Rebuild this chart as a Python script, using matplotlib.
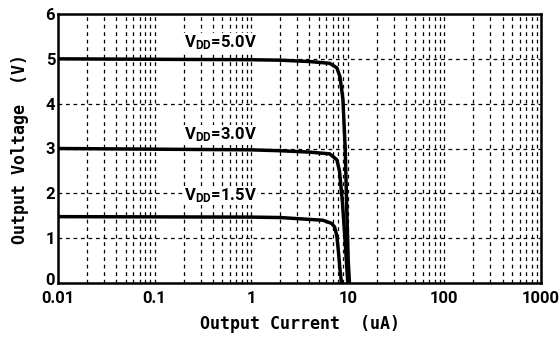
import numpy as np
import matplotlib.pyplot as plt
import matplotlib.transforms as mtransforms
from matplotlib.ticker import LogLocator, FixedLocator, NullFormatter

# output current (uA) and output voltage (V) for each VDD
cur_50 = [0.01, 1, 2, 4, 6.5, 7.7, 8.3, 8.9, 9.4, 9.8, 10.1, 10.4]
vol_50 = [5.0, 4.98, 4.97, 4.94, 4.90, 4.80, 4.6, 4.1, 3.0, 1.5, 0.5, 0.0]

cur_30 = [0.01, 1, 2, 4, 6.5, 7.7, 8.2, 8.8, 9.4, 10.0]
vol_30 = [3.0, 2.97, 2.95, 2.92, 2.88, 2.75, 2.5, 1.8, 0.9, 0.0]

cur_15 = [0.01, 1, 2, 5.5, 6.8, 7.3, 7.7, 8.0, 8.3, 8.6]
vol_15 = [1.48, 1.47, 1.46, 1.40, 1.33, 1.25, 1.05, 0.7, 0.3, 0.0]

labels = [r'V$\mathregular{_{DD}}$=5.0V', r'V$\mathregular{_{DD}}$=3.0V', r'V$\mathregular{_{DD}}$=1.5V']
label_pos = [(0.2, 5.35), (0.2, 3.3), (0.2, 1.95)]

xticks = [0.01, 0.1, 1, 10, 100, 1000]
xticklabels = ['0.01', '0.1', '1', '10', '100', '1000']
yticks = [0, 1, 2, 3, 4, 5, 6]

plt.rcParams['font.family'] = ['Roboto', 'DejaVu Sans']
plt.rcParams['font.weight'] = 'bold'
plt.rcParams['mathtext.default'] = 'regular'
lab_font = ['DejaVu Sans Mono']

fig = plt.figure(figsize=(5.59, 3.42), dpi=100)
ax = fig.add_axes([58/559, 1 - 283/342, (541-58)/559, (283-14)/342])

for c, v in [(cur_50, vol_50), (cur_30, vol_30), (cur_15, vol_15)]:
    ax.plot(c, v, color='black', lw=2.5, solid_joinstyle='round', zorder=3)

ax.set_xscale('log')
ax.set_xlim(0.01, 1000)
ax.set_ylim(0, 6)
ax.xaxis.set_major_locator(FixedLocator(xticks))
ax.set_xticklabels(xticklabels)
ax.xaxis.set_minor_locator(LogLocator(base=10, subs=np.arange(2, 10)))
ax.xaxis.set_minor_formatter(NullFormatter())
ax.set_yticks(yticks)
ax.set_yticklabels([str(v) for v in yticks])

ax.grid(True, which='both', axis='x', color='black', ls=(0, (3, 3)), lw=0.9)
ax.grid(True, which='major', axis='y', color='black', ls=(0, (3, 3)), lw=0.9)
ax.tick_params(which='both', length=0, labelsize=12)
ax.tick_params(axis='x', pad=6)
ax.tick_params(axis='y', pad=2)

# zero label sits a bit above the axis, like the original
ylab0 = ax.get_yticklabels()[0]
ylab0.set_transform(ylab0.get_transform() + mtransforms.ScaledTranslation(0, 3/72, fig.dpi_scale_trans))

for s in ax.spines.values():
    s.set_linewidth(1.8)

for txt, (x, y) in zip(labels, label_pos):
    ax.text(x, y, txt, fontsize=12, fontweight='bold',
            va='center', ha='left', zorder=4,
            bbox=dict(facecolor='white', edgecolor='none', pad=0.3))

ax.set_xlabel('Output Current  (uA)', family=lab_font, fontweight='bold', fontsize=12, labelpad=6)
ax.set_ylabel('Output Voltage  (V)', family=lab_font, fontweight='bold', fontsize=12, labelpad=12)

fig.savefig('out.png', dpi=100)
